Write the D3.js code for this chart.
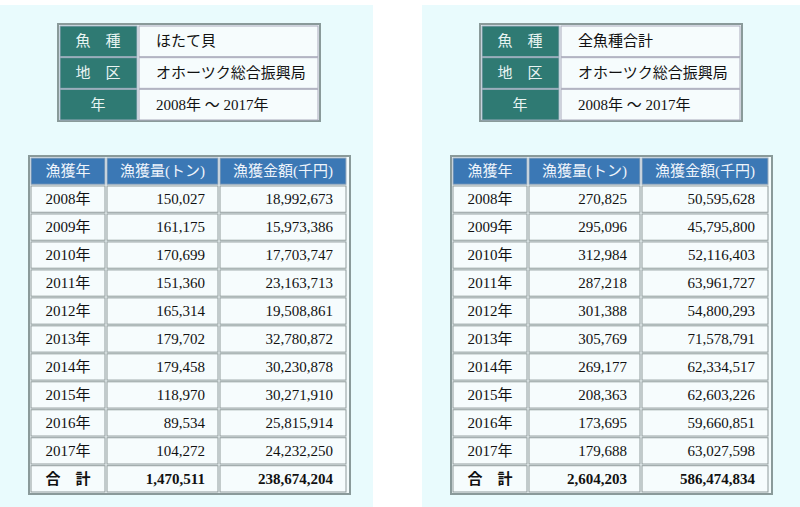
<!DOCTYPE html><html><head><meta charset="utf-8">
<script src="https://cdn.jsdelivr.net/npm/d3@7"></script>
<style>body{margin:0;background:#fff}svg text{font-family:"Liberation Serif","Noto Sans CJK JP",serif}</style></head><body>
<script>
const years=["2008年","2009年","2010年","2011年","2012年","2013年","2014年","2015年","2016年","2017年"];
const hotateQty=[150027,161175,170699,151360,165314,179702,179458,118970,89534,104272];
const hotateAmt=[18992673,15973386,17703747,23163713,19508861,32780872,30230878,30271910,25815914,24232250];
const allQty=[270825,295096,312984,287218,301388,305769,269177,208363,173695,179688];
const allAmt=[50595628,45795800,52116403,63961727,54800293,71578791,62334517,62603226,59660851,63027598];
const headers=["漁獲年","漁獲量(トン)","漁獲金額(千円)"];
const infoLabels=["魚　種","地　区","年"];
const infoLeft=["ほたて貝","オホーツク総合振興局","2008年 ～ 2017年"];
const infoRight=["全魚種合計","オホーツク総合振興局","2008年 ～ 2017年"];
const totalLabel="合　計";
const fmt=d3.format(",");
const svg=d3.select("body").append("svg").attr("width",800).attr("height",507);
svg.append("rect").attr("x",0).attr("y",5).attr("width",373).attr("height",502).attr("fill","#e9fbfd");
svg.append("rect").attr("x",422).attr("y",5).attr("width",378).attr("height",502).attr("fill","#e9fbfd");
function panel(ix,tx,info,qty,amt){
  const iy=d3.scaleBand().domain(d3.range(3)).range([26,120]).paddingInner(0.03);
  const g=svg.append("g");
  g.append("rect").attr("x",ix).attr("y",24).attr("width",262).attr("height",97).attr("fill","#f3fbfc").attr("stroke","#8a9a9a").attr("stroke-width",2);
  info.forEach((v,i)=>{
    g.append("rect").attr("x",ix+2).attr("y",iy(i)).attr("width",77).attr("height",iy.bandwidth()).attr("fill","#2f7a73").attr("stroke","#9ab");
    g.append("rect").attr("x",ix+81).attr("y",iy(i)).attr("width",179).attr("height",iy.bandwidth()).attr("fill","#f6fcfd").attr("stroke","#aab");
    g.append("text").attr("x",ix+40).attr("y",iy(i)+iy.bandwidth()/2+5).attr("text-anchor","middle").attr("fill","#e8f4f2").attr("font-size",15).text(infoLabels[i]);
    g.append("text").attr("x",ix+98).attr("y",iy(i)+iy.bandwidth()/2+5).attr("fill","#111").attr("font-size",15).text(v);
  });
  const cols=[tx+2,tx+78,tx+191,tx+319];
  const rows=years.map((y,i)=>[y,fmt(qty[i]),fmt(amt[i])]);
  rows.push([totalLabel,fmt(d3.sum(qty)),fmt(d3.sum(amt))]);
  const y=d3.scaleBand().domain(d3.range(12)).range([158,492]).paddingInner(0.06);
  g.append("rect").attr("x",tx).attr("y",156).attr("width",321).attr("height",338).attr("fill","#f3fbfc").attr("stroke","#8a9a9a").attr("stroke-width",2);
  headers.forEach((h,j)=>{
    g.append("rect").attr("x",cols[j]).attr("y",y(0)).attr("width",cols[j+1]-cols[j]-2).attr("height",y.bandwidth()).attr("fill","#3b78b5").attr("stroke","#9ab");
    g.append("text").attr("x",(cols[j]+cols[j+1]-2)/2).attr("y",y(0)+y.bandwidth()/2+5).attr("text-anchor","middle").attr("fill","#eef4fb").attr("font-size",15).text(h);
  });
  rows.forEach((r,i)=>{
    const yy=y(i+1),tot=i===10;
    r.forEach((v,j)=>{
      g.append("rect").attr("x",cols[j]).attr("y",yy).attr("width",cols[j+1]-cols[j]-2).attr("height",y.bandwidth()).attr("fill","#f6fcfd").attr("stroke","#8f9a9a");
      const t=g.append("text").attr("y",yy+y.bandwidth()/2+5).attr("font-size",15).attr("fill","#111").attr("font-weight",tot?"bold":"normal").text(v);
      if(j===0) t.attr("x",(cols[0]+cols[1]-2)/2).attr("text-anchor","middle");
      else t.attr("x",cols[j+1]-15).attr("text-anchor","end");
    });
  });
}
panel(58,29,infoLeft,hotateQty,hotateAmt);
panel(480,451,infoRight,allQty,allAmt);
</script></body></html>
